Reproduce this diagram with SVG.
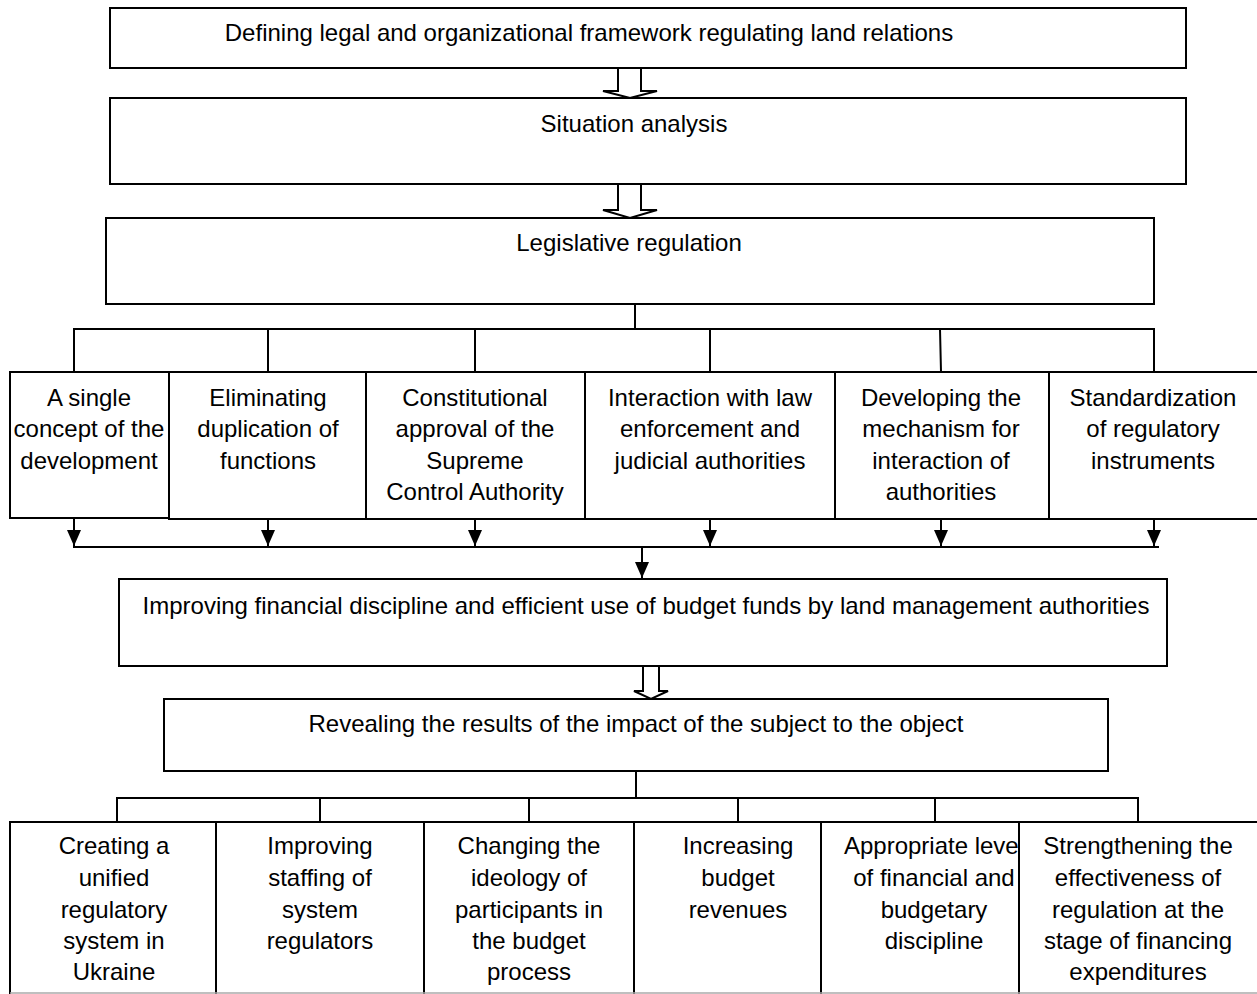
<svg xmlns="http://www.w3.org/2000/svg" width="1257" height="994" viewBox="0 0 1257 994">
<defs>
<style>
.box{fill:#fff;stroke:#000;stroke-width:2}
.t{font-family:"Liberation Sans",Arial,sans-serif;font-size:24px;fill:#000;text-anchor:middle}
.ln{fill:none;stroke:#000;stroke-width:2}
.hollow{fill:#fff;stroke:#000;stroke-width:2;stroke-linejoin:miter}
</style>
<marker id="ah" markerUnits="userSpaceOnUse" markerWidth="18" markerHeight="16" refX="17" refY="8" orient="auto" viewBox="0 0 18 16">
<path d="M1,1 L17,8 L1,15 Z" fill="#000"/>
</marker>
</defs>
<rect width="1257" height="994" fill="#fff"/>

<g id="n-defining">
<rect class="box" x="110" y="8" width="1076" height="60"/>
<text class="t" x="589" y="41">Defining legal and organizational framework regulating land relations</text>
</g>
<g id="n-situation">
<rect class="box" x="110" y="98" width="1076" height="86"/>
<text class="t" x="634" y="132">Situation analysis</text>
</g>
<g id="n-legislative">
<rect class="box" x="106" y="218" width="1048" height="86"/>
<text class="t" x="629" y="251">Legislative regulation</text>
</g>

<g id="n-single">
<rect class="box" x="10" y="372" width="159" height="146"/>
<text class="t" x="89" y="406">A single</text>
<text class="t" x="89" y="437">concept of the</text>
<text class="t" x="89" y="469">development</text>
</g>
<g id="n-eliminating">
<rect class="box" x="169" y="372" width="197" height="147"/>
<text class="t" x="268" y="406">Eliminating</text>
<text class="t" x="268" y="437">duplication of</text>
<text class="t" x="268" y="469">functions</text>
</g>
<g id="n-constitutional">
<rect class="box" x="366" y="372" width="219" height="147"/>
<text class="t" x="475" y="406">Constitutional</text>
<text class="t" x="475" y="437">approval of the</text>
<text class="t" x="475" y="469">Supreme</text>
<text class="t" x="475" y="500">Control Authority</text>
</g>
<g id="n-interaction">
<rect class="box" x="585" y="372" width="250" height="147"/>
<text class="t" x="710" y="406">Interaction with law</text>
<text class="t" x="710" y="437">enforcement and</text>
<text class="t" x="710" y="469">judicial authorities</text>
</g>
<g id="n-developing">
<rect class="box" x="835" y="372" width="214" height="147"/>
<text class="t" x="941" y="406">Developing the</text>
<text class="t" x="941" y="437">mechanism for</text>
<text class="t" x="941" y="469">interaction of</text>
<text class="t" x="941" y="500">authorities</text>
</g>
<g id="n-standardization">
<rect class="box" x="1049" y="372" width="215" height="147"/>
<text class="t" x="1153" y="406">Standardization</text>
<text class="t" x="1153" y="437">of regulatory</text>
<text class="t" x="1153" y="469">instruments</text>
</g>

<g id="n-improving-fin">
<rect class="box" x="119" y="579" width="1048" height="87"/>
<text class="t" x="646" y="614">Improving financial discipline and efficient use of budget funds by land management authorities</text>
</g>
<g id="n-revealing">
<rect class="box" x="164" y="699" width="944" height="72"/>
<text class="t" x="636" y="732">Revealing the results of the impact of the subject to the object</text>
</g>

<g id="n-creating">
<rect class="box" x="10" y="822" width="206" height="190"/>
<text class="t" x="114" y="854">Creating a</text>
<text class="t" x="114" y="886">unified</text>
<text class="t" x="114" y="918">regulatory</text>
<text class="t" x="114" y="949">system in</text>
<text class="t" x="114" y="980">Ukraine</text>
</g>
<g id="n-staffing">
<rect class="box" x="216" y="822" width="208" height="190"/>
<text class="t" x="320" y="854">Improving</text>
<text class="t" x="320" y="886">staffing of</text>
<text class="t" x="320" y="918">system</text>
<text class="t" x="320" y="949">regulators</text>
</g>
<g id="n-ideology">
<rect class="box" x="424" y="822" width="210" height="190"/>
<text class="t" x="529" y="854">Changing the</text>
<text class="t" x="529" y="886">ideology of</text>
<text class="t" x="529" y="918">participants in</text>
<text class="t" x="529" y="949">the budget</text>
<text class="t" x="529" y="980">process</text>
</g>
<g id="n-revenues">
<rect class="box" x="634" y="822" width="187" height="190"/>
<text class="t" x="738" y="854">Increasing</text>
<text class="t" x="738" y="886">budget</text>
<text class="t" x="738" y="918">revenues</text>
</g>
<g id="n-appropriate">
<rect class="box" x="821" y="822" width="198" height="190"/>
<text class="t" x="934" y="854">Appropriate level</text>
<text class="t" x="934" y="886">of financial and</text>
<text class="t" x="934" y="918">budgetary</text>
<text class="t" x="934" y="949">discipline</text>
</g>
<g id="n-strengthening">
<rect class="box" x="1019" y="822" width="245" height="190"/>
<text class="t" x="1138" y="854">Strengthening the</text>
<text class="t" x="1138" y="886">effectiveness of</text>
<text class="t" x="1138" y="918">regulation at the</text>
<text class="t" x="1138" y="949">stage of financing</text>
<text class="t" x="1138" y="980">expenditures</text>
</g>
<line x1="10" y1="993" x2="1257" y2="993" stroke="#aaa" stroke-width="1.5"/>

<g id="connectors">
<polygon class="hollow" points="618,68 641,68 641,91 657,91 630,98 603,91 618,91"/>
<polygon class="hollow" points="618,184 641,184 641,210 657,210 630,218 603,210 618,210"/>
<polygon class="hollow" points="643,666 659,666 659,691 668,691 651,699 634,691 643,691"/>

<path class="ln" d="M635,304 V329 M74,372 V329 H1154 V372 M268,329 V372 M475,329 V372 M710,329 V372 M940,329 L941,372"/>

<line class="ln" x1="74" y1="519" x2="74" y2="546" marker-end="url(#ah)"/>
<line class="ln" x1="268" y1="519" x2="268" y2="546" marker-end="url(#ah)"/>
<line class="ln" x1="475" y1="519" x2="475" y2="546" marker-end="url(#ah)"/>
<line class="ln" x1="710" y1="519" x2="710" y2="546" marker-end="url(#ah)"/>
<line class="ln" x1="941" y1="519" x2="941" y2="546" marker-end="url(#ah)"/>
<line class="ln" x1="1154" y1="519" x2="1154" y2="546" marker-end="url(#ah)"/>
<line class="ln" x1="73" y1="547" x2="1159" y2="547"/>
<line class="ln" x1="642" y1="547" x2="642" y2="578" marker-end="url(#ah)"/>

<path class="ln" d="M636,771 V798 M117,822 V798 H1138 V822 M320,798 V822 M529,798 V822 M738,798 V822 M935,798 V822"/>
</g>
</svg>
